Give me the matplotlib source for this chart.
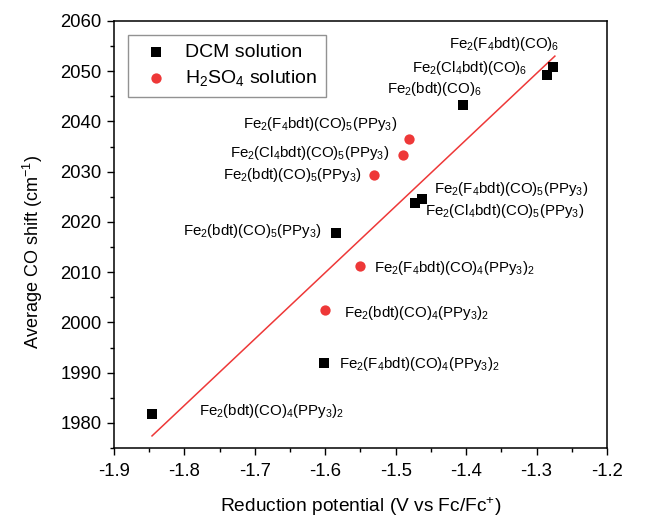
import matplotlib
matplotlib.use("Agg")
import matplotlib.pyplot as plt
import numpy as np

plt.rcParams['font.family'] = ['Liberation Sans', 'DejaVu Sans']
plt.rcParams['mathtext.fontset'] = 'custom'
plt.rcParams['mathtext.rm'] = 'Liberation Sans'
plt.rcParams['mathtext.it'] = 'Liberation Sans:italic'
plt.rcParams['mathtext.bf'] = 'Liberation Sans:bold'

# DCM solution
dcm_x = [-1.276, -1.285, -1.404, -1.462, -1.472, -1.585, -1.602, -1.846]
dcm_y = [2050.8, 2049.2, 2043.2, 2024.6, 2023.7, 2017.8, 1991.9, 1981.7]
dcm_labels = [
    r'Fe$_2$(F$_4$bdt)(CO)$_6$',
    r'Fe$_2$(Cl$_4$bdt)(CO)$_6$',
    r'Fe$_2$(bdt)(CO)$_6$',
    r'Fe$_2$(F$_4$bdt)(CO)$_5$(PPy$_3$)',
    r'Fe$_2$(Cl$_4$bdt)(CO)$_5$(PPy$_3$)',
    r'Fe$_2$(bdt)(CO)$_5$(PPy$_3$)',
    r'Fe$_2$(F$_4$bdt)(CO)$_4$(PPy$_3$)$_2$',
    r'Fe$_2$(bdt)(CO)$_4$(PPy$_3$)$_2$',
]

# H2SO4 solution
acid_x = [-1.481, -1.490, -1.531, -1.551, -1.601]
acid_y = [2036.5, 2033.4, 2029.3, 2011.3, 2002.4]
acid_labels = [
    r'Fe$_2$(F$_4$bdt)(CO)$_5$(PPy$_3$)',
    r'Fe$_2$(Cl$_4$bdt)(CO)$_5$(PPy$_3$)',
    r'Fe$_2$(bdt)(CO)$_5$(PPy$_3$)',
    r'Fe$_2$(F$_4$bdt)(CO)$_4$(PPy$_3$)$_2$',
    r'Fe$_2$(bdt)(CO)$_4$(PPy$_3$)$_2$',
]

# fitted line end points
fit_x = [-1.846, -1.274]
fit_y = [1977.4, 2053.0]

# label anchor positions (left edge, centre) in data coords
dcm_pos = [(-1.424, 2055.4), (-1.477, 2050.6), (-1.512, 2046.5),
           (-1.446, 2026.6), (-1.458, 2022.2), (-1.802, 2018.2),
           (-1.581, 1991.7), (-1.779, 1982.4)]
acid_pos = [(-1.717, 2039.5), (-1.735, 2033.7), (-1.745, 2029.4),
            (-1.531, 2010.8), (-1.573, 2001.9)]

red = '#EE3838'

fig = plt.figure(figsize=(6.6, 5.17), dpi=100)
ax = fig.add_axes([0.1727, 0.1335, 0.747, 0.826])

ax.plot(fit_x, fit_y, color=red, lw=1.1, zorder=1)
ax.scatter(dcm_x, dcm_y, marker='s', s=45, color='black', lw=0,
           label='DCM solution', zorder=3)
ax.scatter(acid_x, acid_y, marker='o', s=55, color=red, lw=0,
           label=r'H$_2$SO$_4$ solution', zorder=3)

for (px, py), txt in zip(dcm_pos, dcm_labels):
    ax.text(px, py, txt, fontsize=10.8, ha='left', va='center')
for (px, py), txt in zip(acid_pos, acid_labels):
    ax.text(px, py, txt, fontsize=10.8, ha='left', va='center')

ax.set_xlim(-1.9, -1.2)
ax.set_ylim(1975, 2060)
ax.set_xticks(np.arange(-1.9, -1.19, 0.1))
ax.set_xticklabels(['-1.9', '-1.8', '-1.7', '-1.6', '-1.5', '-1.4', '-1.3', '-1.2'])
ax.set_yticks(np.arange(1980, 2061, 10))
ax.set_xticks(np.arange(-1.85, -1.2, 0.1), minor=True)
ax.set_yticks(np.arange(1975, 2060, 10), minor=True)
ax.tick_params(which='major', direction='out', length=5, width=1,
               labelsize=13.3, top=False, right=False)
ax.tick_params(axis='y', which='major', pad=4)
ax.tick_params(axis='x', which='major', pad=6)
ax.tick_params(which='minor', direction='out', length=3, width=1,
               top=False, right=False)
for sp in ax.spines.values():
    sp.set_linewidth(1.1)

ax.set_xlabel(r'Reduction potential (V vs Fc/Fc$^{+}$)', fontsize=13.8, labelpad=11)
ax.set_ylabel(r'Average CO shift (cm$^{-1}$)', fontsize=13)
ax.yaxis.set_label_coords(-0.14, 0.46)

leg = ax.legend(loc='upper left', fontsize=14, frameon=True, fancybox=False,
                edgecolor='#777777', borderpad=0.45, handletextpad=0.5,
                labelspacing=0.35, bbox_to_anchor=(0.008, 0.99), scatterpoints=1)
leg.get_frame().set_linewidth(1.0)

fig.savefig('out.png', dpi=100)
